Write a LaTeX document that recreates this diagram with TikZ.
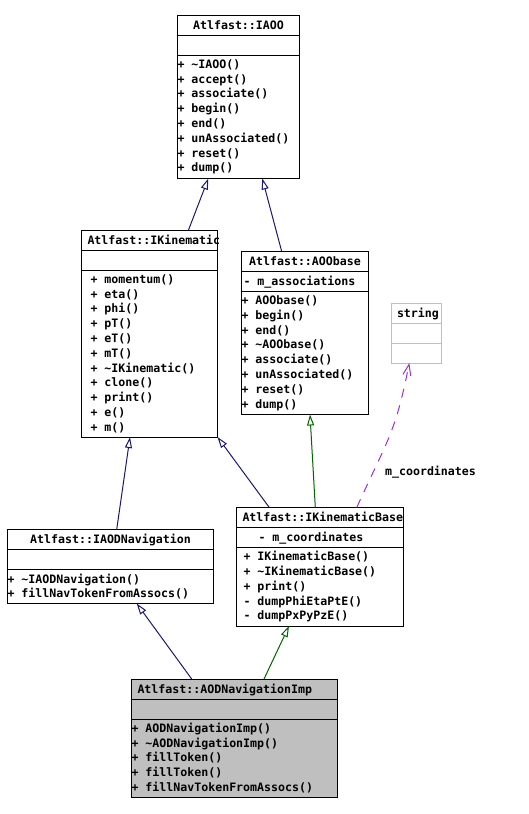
\documentclass[tikz,border=0pt]{standalone}
\usepackage{fontspec}
\newfontfamily\umlfont{DejaVu Sans Mono}
\usetikzlibrary{arrows.meta,positioning}

\definecolor{inhblue}{HTML}{191970}
\definecolor{inhgreen}{HTML}{006400}
\definecolor{usepurple}{HTML}{9A32CD}
\definecolor{umlgray}{HTML}{BFBFBF}

\begin{document}
\begin{tikzpicture}[%
        x = 1pt,
        y = -1pt,
        line width = 1pt,
        umltext/.style = {font = \umlfont\bfseries\fontsize{11.6}{14.8}\selectfont},
        classtitle/.style = {umltext, draw, outer sep = 0pt, anchor = north,
            minimum height = 20pt, inner xsep = 6pt, align = center,
            text height = 8.5pt, text depth = 0pt},
        classattr/.style = {umltext, draw, outer sep = 0pt, minimum height = 20pt,
            inner xsep = 0pt, align = flush left, text height = 8.5pt, text depth = 0pt},
        classops/.style = {umltext, draw, outer sep = 0pt, inner xsep = 0pt,
            inner ysep = 3pt, align = flush left},
        inherit/.style = {-{Triangle[open, length = 11pt, width = 7pt]}, inhblue},
        inheritprot/.style = {inherit, inhgreen},
        usage/.style = {-{Straight Barb[length = 11pt, width = 8pt]}, usepurple,
            dash pattern = on 9pt off 8pt}
    ]

        \useasboundingbox (0, 0) rectangle (529, 814);

        % Atlfast::IAOO
        \node[classtitle, text width = 110pt] (iaoo) at (238.5, 15.5) {Atlfast::IAOO};
        \node[classattr, minimum width = 122pt, below = 0pt of iaoo] (iaooattr) {};
        \node[classops, text width = 122pt, minimum height = 123pt, below = 0pt of iaooattr] (iaooops) {%
            + \textasciitilde IAOO()\\
            + accept()\\
            + associate()\\
            + begin()\\
            + end()\\
            + unAssociated()\\
            + reset()\\
            + dump()};

        % Atlfast::IKinematic
        \node[classtitle, text width = 124pt] (ikin) at (149.5, 230.5) {Atlfast::IKinematic};
        \node[classattr, minimum width = 136pt, below = 0pt of ikin] (ikinattr) {};
        \node[classops, text width = 118pt, inner xsep = 9pt, minimum height = 166.5pt, below = 0pt of ikinattr] (ikinops) {%
            + momentum()\\
            + eta()\\
            + phi()\\
            + pT()\\
            + eT()\\
            + mT()\\
            + \textasciitilde IKinematic()\\
            + clone()\\
            + print()\\
            + e()\\
            + m()};

        % Atlfast::AOObase
        \node[classtitle, text width = 115pt] (aoobase) at (305, 251.5) {Atlfast::AOObase};
        \node[classattr, text width = 123pt, inner xsep = 2pt, below = 0pt of aoobase] (aoobaseattr) {- m\_associations};
        \node[classops, text width = 127pt, minimum height = 123pt, below = 0pt of aoobaseattr] (aoobaseops) {%
            + AOObase()\\
            + begin()\\
            + end()\\
            + \textasciitilde AOObase()\\
            + associate()\\
            + unAssociated()\\
            + reset()\\
            + dump()};

        % string
        \node[classtitle, draw = umlgray, text width = 38pt] (string) at (416, 303) {string};
        \node[classattr, draw = umlgray, minimum width = 50pt, below = 0pt of string] (stringattr) {};
        \node[classattr, draw = umlgray, minimum width = 50pt, below = 0pt of stringattr] (stringops) {};

        % Atlfast::IKinematicBase
        \node[classtitle, text width = 155pt] (ikbase) at (320, 507.5) {Atlfast::IKinematicBase};
        \node[classattr, text width = 123pt, inner xsep = 22pt, below = 0pt of ikbase] (ikbaseattr) {- m\_coordinates};
        \node[classops, text width = 153pt, inner xsep = 7pt, minimum height = 78.5pt, below = 0pt of ikbaseattr] (ikbaseops) {%
            + IKinematicBase()\\
            + \textasciitilde IKinematicBase()\\
            + print()\\
            - dumpPhiEtaPtE()\\
            - dumpPxPyPzE()};

        % Atlfast::IAODNavigation
        \node[classtitle, text width = 194pt] (iaodnav) at (110.5, 529.5) {Atlfast::IAODNavigation};
        \node[classattr, minimum width = 206pt, below = 0pt of iaodnav] (iaodnavattr) {};
        \node[classops, text width = 206pt, minimum height = 34pt, below = 0pt of iaodnavattr] (iaodnavops) {%
            + \textasciitilde IAODNavigation()\\
            + fillNavTokenFromAssocs()};

        % Atlfast::AODNavigationImp, the class of this diagram.
        \begin{scope}[every node/.append style = {fill = umlgray}]
            \node[classtitle, text width = 194pt, align = flush left] (aodimp) at (234.5, 679) {Atlfast::AODNavigationImp};
            \node[classattr, minimum width = 206pt, below = 0pt of aodimp] (aodimpattr) {};
            \node[classops, text width = 206pt, minimum height = 78pt, below = 0pt of aodimpattr] (aodimpops) {%
                + AODNavigationImp()\\
                + \textasciitilde AODNavigationImp()\\
                + fillToken()\\
                + fillToken()\\
                + fillNavTokenFromAssocs()};
        \end{scope}

        % Inheritance.
        \draw[inherit] ([xshift = 38.8pt]ikin.north) -- ([xshift = -30.2pt]iaooops.south);
        \draw[inherit] ([xshift = -23.3pt]aoobase.north) -- ([xshift = 23.8pt]iaooops.south);
        \draw[inherit] ([xshift = 6.2pt]iaodnav.north) -- ([xshift = -19.5pt]ikinops.south);
        \draw[inherit] ([xshift = -50.7pt]ikbase.north) -- (ikinops.south east);
        \draw[inheritprot] ([xshift = -4.7pt]ikbase.north) -- ([xshift = 5pt]aoobaseops.south);
        \draw[inherit] ([xshift = -42.8pt]aodimp.north) -- ([xshift = 26.2pt]iaodnavops.south);
        \draw[inheritprot] ([xshift = 29.5pt]aodimp.north) -- ([xshift = -31pt]ikbaseops.south);

        % Usage of string.
        \draw[usage] ([xshift = 36.7pt]ikbase.north)
            .. controls +(32, -70) and +(-14, 70) .. ([xshift = -6.7pt]stringops.south);
        \node[umltext, text height = 8.5pt, text depth = 0pt] (coordlabel) at (430.5, 471) {m\_coordinates};
    \end{tikzpicture}
\end{document}
